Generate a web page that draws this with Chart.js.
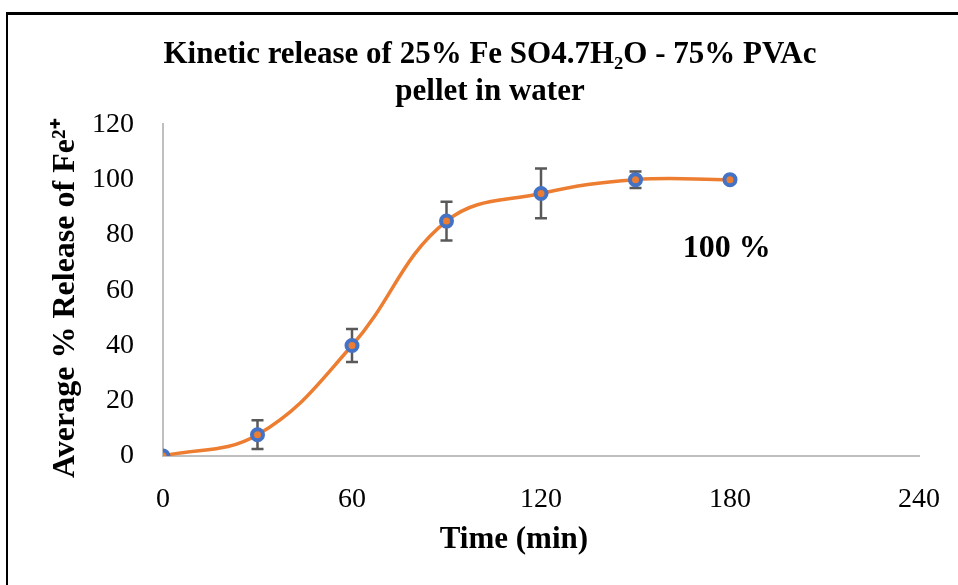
<!DOCTYPE html>
<html lang="en">
<head>
    <meta charset="UTF-8">
    <title>Kinetic release of Fe2+</title>
    <script src="https://cdn.jsdelivr.net/npm/chart.js"></script>
    <style>
        body {
            margin: 0;
            background: white;
        }
        .frame {
            position: absolute;
            left: 6px;
            top: 12px;
            width: 980px;
            height: 600px;
            border-top: 3px solid #000;
            border-left: 2px solid #000;
        }
        #releaseChart {
            position: absolute;
            left: 0;
            top: 0;
        }
    </style>
</head>
<body>
    <div class="frame"></div>
    <canvas id="releaseChart" width="958" height="585"></canvas>
    <script>
        // data
        const times = [0, 30, 60, 90, 120, 150, 180];
        const release = [0, 7.7, 40, 85, 95, 100, 100];
        const errors = [0, 5.2, 6, 7, 9, 3, 0];
        const xTicks = [0, 60, 120, 180, 240];
        const yTicks = [0, 20, 40, 60, 80, 100, 120];
        const noteText = '100 %';
        const notePos = [179, 75];

        const serif = "'Liberation Serif', 'Times New Roman', serif";
        // non-breaking spaces nudge the axis titles off-centre, as in the original
        const pad = n => '\u00A0'.repeat(n);

        const errorBars = {
            id: 'errorBars',
            beforeDatasetsDraw(chart) {
                const ctx = chart.ctx;
                const xs = chart.scales.x, ys = chart.scales.y;
                ctx.save();
                ctx.strokeStyle = '#595959';
                ctx.lineWidth = 2.5;
                for (let i = 0; i < times.length; i++) {
                    if (!errors[i]) continue;
                    let x = xs.getPixelForValue(times[i]);
                    let top = ys.getPixelForValue(release[i] + errors[i]);
                    let bot = ys.getPixelForValue(release[i] - errors[i]);
                    ctx.beginPath();
                    ctx.moveTo(x, top); ctx.lineTo(x, bot);
                    ctx.moveTo(x - 6, top); ctx.lineTo(x + 6, top);
                    ctx.moveTo(x - 6, bot); ctx.lineTo(x + 6, bot);
                    ctx.stroke();
                }
                ctx.restore();
            }
        };

        const note = {
            id: 'note',
            afterDraw(chart) {
                const ctx = chart.ctx;
                ctx.save();
                ctx.font = 'bold 32px ' + serif;
                ctx.fillStyle = '#000';
                ctx.textAlign = 'center';
                ctx.textBaseline = 'middle';
                ctx.fillText(noteText, chart.scales.x.getPixelForValue(notePos[0]), chart.scales.y.getPixelForValue(notePos[1]));
                ctx.restore();
            }
        };

        new Chart(document.getElementById('releaseChart'), {
            type: 'scatter',
            data: {
                datasets: [{
                    data: times.map((t, i) => ({x: t, y: release[i]})),
                    showLine: true,
                    borderColor: '#ED7D31',
                    borderWidth: 3.5,
                    tension: 0.4,
                    pointRadius: 5.5,
                    pointBorderWidth: 4,
                    pointBackgroundColor: '#ED7D31',
                    pointBorderColor: '#4472C4'
                }]
            },
            options: {
                responsive: false,
                animation: false,
                layout: {padding: {left: 22, right: 0, top: 0, bottom: 0}},
                plugins: {
                    legend: {display: false},
                    tooltip: {enabled: false},
                    title: {
                        display: true,
                        text: ['Kinetic release of 25% Fe SO4.7H\u2082O - 75% PVAc', 'pellet in water'],
                        color: '#000',
                        font: {family: serif, size: 31, weight: 'bold', lineHeight: 1.2},
                        padding: {top: 36, bottom: 14}
                    }
                },
                scales: {
                    x: {
                        type: 'linear',
                        min: 0,
                        max: 240,
                        afterBuildTicks: s => { s.ticks = xTicks.map(v => ({value: v})); },
                        afterFit: s => { s.height = 129; s.paddingRight = 39; },
                        grid: {display: false, drawTicks: false},
                        border: {display: true, color: '#BFBFBF', width: 2},
                        ticks: {color: '#000', padding: 27, font: {family: serif, size: 28}},
                        title: {
                            display: true,
                            text: 'Time (min)' + pad(7),
                            color: '#000',
                            font: {family: serif, size: 31, weight: 'bold'},
                            padding: 26
                        }
                    },
                    y: {
                        min: 0,
                        max: 120,
                        afterBuildTicks: s => { s.ticks = yTicks.map(v => ({value: v})); },
                        afterFit: s => { s.width = 141; },
                        grid: {display: false, drawTicks: false},
                        border: {display: true, color: '#BFBFBF', width: 2},
                        ticks: {color: '#000', padding: 29, font: {family: serif, size: 28}},
                        title: {
                            display: true,
                            text: 'Average % Release of Fe\u00B2\u207A' + pad(2),
                            color: '#000',
                            font: {family: serif, size: 32, weight: 'bold'},
                            padding: 25
                        }
                    }
                }
            },
            plugins: [errorBars, note]
        });
    </script>
</body>
</html>
